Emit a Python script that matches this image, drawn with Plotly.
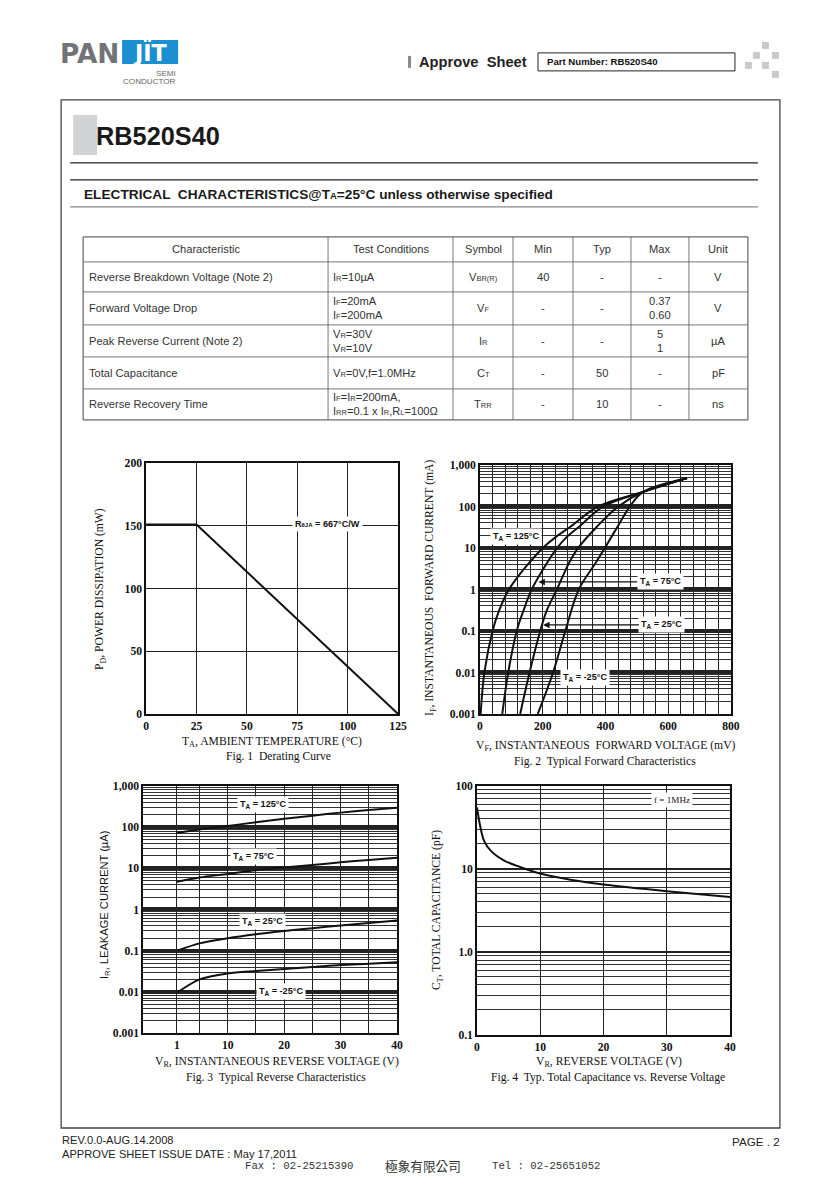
import plotly.graph_objects as go

# ---------------- data ----------------
table_header = ["Characteristic", "Test Conditions", "Symbol", "Min", "Typ", "Max", "Unit"]
table_characteristic = ["Reverse Breakdown Voltage (Note 2)", "Forward Voltage Drop",
                        "Peak Reverse Current (Note 2)", "Total Capacitance", "Reverse Recovery Time"]
S = "<span style='font-size:7.5px'>%s</span>"
table_conditions = ["I" + S % "R" + "=10µA",
                    "I" + S % "F" + "=20mA<br>I" + S % "F" + "=200mA",
                    "V" + S % "R" + "=30V<br>V" + S % "R" + "=10V",
                    "V" + S % "R" + "=0V,f=1.0MHz",
                    "I" + S % "F" + "=I" + S % "R" + "=200mA,<br>I" + S % "RR" + "=0.1 x I" + S % "R" + ",R" + S % "L" + "=100Ω"]
table_symbol = ["V" + S % "BR(R)", "V" + S % "F", "I" + S % "R", "C" + S % "T", "T" + S % "RR"]
table_min = ["40", "-", "-", "-", "-"]
table_typ = ["-", "-", "-", "50", "10"]
table_max = ["-", "0.37<br>0.60", "5<br>1", "-", "-"]
table_unit = ["V", "V", "µA", "pF", "ns"]

# Fig.1 derating curve
derate_temp = [0, 25, 125]
derate_power = [151, 151, 0]

# Fig.2 forward characteristics (mV, mA)
fwd_v_125 = [2, 14, 40, 60, 92, 130, 158, 200, 240, 287, 377, 520, 660]
fwd_i_125 = [0.001, 0.01, 0.1, 0.3, 1, 2.5, 4.5, 10, 18, 32, 100, 224, 480]
fwd_v_75 = [71, 90, 117, 138, 165, 215, 246, 275, 315, 393, 520, 660]
fwd_i_75 = [0.001, 0.01, 0.1, 0.3, 1, 4.5, 10, 18, 32, 100, 224, 480]
fwd_v_25 = [128, 158, 192, 212, 245, 285, 313, 372, 441, 520, 660]
fwd_i_25 = [0.001, 0.01, 0.1, 0.3, 1, 4.5, 10, 32, 100, 224, 480]
fwd_v_m25 = [184, 233, 272, 315, 370, 398, 438, 478, 520, 660]
fwd_i_m25 = [0.001, 0.01, 0.1, 1, 4.5, 10, 32, 100, 224, 480]

# Fig.3 reverse characteristics (V, uA)
rev_v = [1, 5, 10, 15, 20, 25, 30, 35, 40]
rev_i_125 = [72, 88, 106, 132, 160, 190, 225, 260, 295]
rev_i_75 = [4.7, 6.0, 7.3, 9.0, 10.5, 12.0, 14.0, 16.0, 18.0]
rev_i_25 = [0.10, 0.15, 0.20, 0.25, 0.30, 0.35, 0.41, 0.47, 0.54]
rev_i_m25 = [0.0095, 0.020, 0.028, 0.032, 0.036, 0.040, 0.045, 0.048, 0.052]

# Fig.4 capacitance (V, pF)
cap_v = [0, 0.4, 1.1, 2.2, 4.3, 6.9, 10, 14.8, 20, 30, 40]
cap_pf = [55, 36, 22, 16.5, 12.6, 10.5, 8.8, 7.4, 6.5, 5.4, 4.6]

fwd_ticks = [0, 200, 400, 600, 800]
log_ticks_6 = [0.001, 0.01, 0.1, 1, 10, 100, 1000]
log_ticktext_6 = ["0.001", "0.01", "0.1", "1", "10", "100", "1,000"]
cap_ticks = [0.1, 1, 10, 100]
cap_ticktext = ["0.1", "1.0", "10", "100"]
rev_tickvals = [1, 10, 20, 30, 40]
rev_ticktext = ["1", "10", "20", "30", "40"]
rev_minor = [5, 15, 25, 35]

# ---------------- layout helpers ----------------
W, H = 840, 1189
# small correction for the capture's slight shrink
SX, AX = 0.986, 2.85
SY, AY = 0.989, 6.1
FS = 1.013
def X(p): return ((p - AX) / SX) / W
def Y(p): return 1 - ((p - AY) / SY) / H

SERIF = "Liberation Serif, Times New Roman, serif"
SANS = "Liberation Sans, Arial, sans-serif"

fig = go.Figure()
shapes = []
ann = []

def text(x, y, s, size=10.5, family=SANS, color="#333", xanchor="left", angle=0, bold=False):
    if bold:
        s = "<b>" + s + "</b>"
    ann.append(dict(x=X(x), y=Y(y), xref="paper", yref="paper", text=s, showarrow=False,
                    xanchor=xanchor, yanchor="middle", textangle=angle, align=xanchor,
                    font=dict(family=family, size=size * FS, color=color)))

def line(x0, y0, x1, y1, color="#333", width=1):
    shapes.append(dict(type="line", xref="paper", yref="paper", x0=X(x0), y0=Y(y0), x1=X(x1), y1=Y(y1),
                       line=dict(color=color, width=width)))

def rect(x0, y0, x1, y1, fill=None, color="#333", width=1):
    shapes.append(dict(type="rect", xref="paper", yref="paper", x0=X(x0), y0=Y(y0), x1=X(x1), y1=Y(y1),
                       fillcolor=fill if fill else "rgba(0,0,0,0)",
                       line=dict(color=color, width=width)))

# ---------------- header ----------------
rect(122, 40, 178, 64, fill="#1b8fd2", color="#1b8fd2", width=0)
text(58, 54, "PAN", size=26, family="DejaVu Sans", color="#727376", bold=True)
text(150, 53, "JÏT", size=22, family="DejaVu Sans", color="white", xanchor="center", bold=True)
text(178, 74, "SEMI", size=8, family=SANS, color="#666", xanchor="right")
text(178, 82, "CONDUCTOR", size=8, family=SANS, color="#666", xanchor="right")

rect(408, 56, 411, 68, fill="#888", color="#888", width=0)
text(417, 62, "Approve  Sheet", size=14.5, family=SANS, color="#222", bold=True)
rect(538, 53, 735, 71, color="#222", width=1)
text(545, 62, "Part Number: RB520S40", size=9.5, family=SANS, color="#111", bold=True)
for (sx, sy) in [(762, 42), (753, 52), (772, 52), (745, 62), (762, 62), (772, 71)]:
    rect(sx, sy, sx + 7, sy + 7, fill="#c9c9c9", color="#c9c9c9", width=0)

# main frame
rect(61, 100, 780, 1128, color="#444", width=1.3)
rect(73, 115, 97, 155, fill="#d2d3d5", color="#d2d3d5", width=0)
text(94, 136, "RB520S40", size=25, family=SANS, color="#1a1a1a", bold=True)
line(70, 163, 758, 163, "#222", 1.2)
line(70, 180, 758, 180, "#222", 1.2)
line(70, 207, 758, 207, "#888", 1.3)
text(82, 195, "ELECTRICAL  CHARACTERISTICS@T<span style='font-size:9.5px'>A</span>=25°C unless otherwise specified",
     size=13.5, family=SANS, color="#1a1a1a", bold=True)

# ---------------- table ----------------
col_x = [83, 328, 453, 513, 573, 631, 689, 748]
row_y = [237, 262, 292, 325, 357, 389, 420]
rect(col_x[0], row_y[0], col_x[-1], row_y[-1], color="#444", width=1)
for cx in col_x[1:-1]:
    line(cx, row_y[0], cx, row_y[-1], "#555", 0.8)
for ry in row_y[1:-1]:
    line(col_x[0], ry, col_x[-1], ry, "#555", 0.8)
TS = 11
for i, h in enumerate(table_header):
    text((col_x[i] + col_x[i + 1]) / 2, (row_y[0] + row_y[1]) / 2, h, size=TS, xanchor="center")
columns = [table_characteristic, table_conditions, table_symbol, table_min, table_typ, table_max, table_unit]
for r in range(5):
    cy = (row_y[r + 1] + row_y[r + 2]) / 2
    for c, col in enumerate(columns):
        if c == 0:
            text(col_x[0] + 4, cy, col[r], size=TS)
        elif c == 1:
            text(col_x[1] + 3, cy, col[r], size=TS)
        else:
            text((col_x[c] + col_x[c + 1]) / 2, cy, col[r], size=TS, xanchor="center")

# ---------------- charts ----------------
LINE = dict(color="#111", width=2)
fig.add_trace(go.Scatter(x=derate_temp, y=derate_power, mode="lines", line=LINE, xaxis="x", yaxis="y"))
for v, i in [(fwd_v_125, fwd_i_125), (fwd_v_75, fwd_i_75), (fwd_v_25, fwd_i_25), (fwd_v_m25, fwd_i_m25)]:
    fig.add_trace(go.Scatter(x=v, y=i, mode="lines", line=dict(color="#111", width=2, shape="spline", smoothing=1.0),
                             xaxis="x2", yaxis="y2"))
for i in [rev_i_125, rev_i_75, rev_i_25, rev_i_m25]:
    fig.add_trace(go.Scatter(x=rev_v, y=i, mode="lines", line=dict(color="#111", width=2, shape="spline", smoothing=0.8),
                             xaxis="x3", yaxis="y3"))
fig.add_trace(go.Scatter(x=cap_v, y=cap_pf, mode="lines", line=dict(color="#111", width=2, shape="spline", smoothing=0.9),
                         xaxis="x4", yaxis="y4"))

def minor_log(decades):
    vals = []
    for d in decades:
        for k in range(2, 10):
            vals.append(d * k)
    return vals

TICKF = dict(family=SERIF, size=11.5 * FS, color="#111", weight="bold")
base = dict(showline=True, mirror=True, linecolor="#111", linewidth=1.5, ticks="", zeroline=False,
            gridcolor="#222", gridwidth=1, tickfont=TICKF, showgrid=True)

layout_axes = dict(
    xaxis=dict(base, domain=[X(146), X(398)], anchor="y", range=[0, 125], tickvals=[0, 25, 50, 75, 100, 125]),
    yaxis=dict(base, domain=[Y(714), Y(463)], anchor="x", range=[0, 200], tickvals=[0, 50, 100, 150, 200]),
    xaxis2=dict(base, domain=[X(480), X(731)], anchor="y2", range=[0, 800], tickvals=fwd_ticks,
                minor=dict(dtick=40, showgrid=True, gridcolor="#222", gridwidth=1, ticks="")),
    yaxis2=dict(base, domain=[Y(714), Y(465)], anchor="x2", type="log", range=[-3, 3],
                tickvals=log_ticks_6, ticktext=log_ticktext_6, gridwidth=4,
                minor=dict(tickvals=minor_log(log_ticks_6[:-1]), showgrid=True, gridcolor="#333", gridwidth=1, ticks="")),
    xaxis3=dict(base, domain=[X(143), X(397)], anchor="y3", range=[-5, 40], tickvals=rev_tickvals, ticktext=rev_ticktext,
                minor=dict(tickvals=rev_minor, showgrid=True, gridcolor="#222", gridwidth=1, ticks="")),
    yaxis3=dict(base, domain=[Y(1033), Y(786)], anchor="x3", type="log", range=[-3, 3],
                tickvals=log_ticks_6, ticktext=log_ticktext_6, gridwidth=4,
                minor=dict(tickvals=minor_log(log_ticks_6[:-1]), showgrid=True, gridcolor="#333", gridwidth=1, ticks="")),
    xaxis4=dict(base, domain=[X(477), X(730)], anchor="y4", range=[0, 40], tickvals=[0, 10, 20, 30, 40]),
    yaxis4=dict(base, domain=[Y(1035), Y(786)], anchor="x4", type="log", range=[-1, 2],
                tickvals=cap_ticks, ticktext=cap_ticktext, gridwidth=2,
                minor=dict(tickvals=minor_log(cap_ticks[:-1]), showgrid=True, gridcolor="#333", gridwidth=1, ticks="")),
)

# chart in-plot labels
LAB = dict(family=SANS, size=9 * FS, color="#111")
def plab(xr, yr, x, y, s, font=LAB):
    ann.append(dict(x=x, y=y, xref=xr, yref=yr, text=s, showarrow=False, bgcolor="white",
                    borderpad=2, font=font, xanchor="center", yanchor="middle"))

plab("x", "y", 90, 151, "<b>R<span style='font-size:6px'>θJA</span> = 667°C/W</b>")
plab("x2", "y2", 115, 1.265, "<b>T<sub>A</sub> = 125°C</b>")
plab("x3", "y3", 16.2, 2.56, "<b>T<sub>A</sub> = 125°C</b>")
plab("x3", "y3", 14.6, 1.28, "<b>T<sub>A</sub> = 75°C</b>")
plab("x3", "y3", 16.2, -0.30, "<b>T<sub>A</sub> = 25°C</b>")
plab("x3", "y3", 19.4, -1.99, "<b>T<sub>A</sub> = -25°C</b>")
plab("x4", "y4", 30.8, 1.83, "f = 1MHz", font=dict(family=SERIF, size=9 * FS, color="#111"))
plab("x2", "y2", 335, -2.11, "<b>T<sub>A</sub> = -25°C</b>")
for (hx, lx, ly, s) in [(186, 574, 0.18, "<b>T<sub>A</sub> = 75°C</b>"), (201, 580, -0.855, "<b>T<sub>A</sub> = 25°C</b>")]:
    ann.append(dict(x=hx, y=ly, xref="x2", yref="y2", ax=lx, ay=ly, axref="x2", ayref="y2", text=s,
                    showarrow=True, arrowhead=2, arrowsize=1, arrowwidth=1.3, arrowcolor="#111",
                    bgcolor="white", borderpad=2, font=LAB))

# axis titles & captions
TT = 11.5
text(272, 742, "T<sub>A</sub>, AMBIENT TEMPERATURE (°C)", TT, SERIF, "#111", "center")
text(278, 757, "Fig. 1  Derating Curve", TT, SERIF, "#111", "center")
text(100, 589, "P<sub>D</sub>, POWER DISSIPATION (mW)", TT, SERIF, "#111", "center", angle=-90)
text(606, 746, "V<sub>F</sub>, INSTANTANEOUS  FORWARD VOLTAGE (mV)", TT, SERIF, "#111", "center")
text(605, 762, "Fig. 2  Typical Forward Characteristics", TT, SERIF, "#111", "center")
text(430, 588, "I<sub>F</sub>, INSTANTANEOUS  FORWARD CURRENT (mA)", TT, SERIF, "#111", "center", angle=-90)
text(277, 1062, "V<sub>R</sub>, INSTANTANEOUS REVERSE VOLTAGE (V)", TT, SERIF, "#111", "center")
text(276, 1078, "Fig. 3  Typical Reverse Characteristics", TT, SERIF, "#111", "center")
text(105, 905, "I<sub>R</sub>, LEAKAGE CURRENT (µA)", 11, SANS, "#111", "center", angle=-90)
text(609, 1062, "V<sub>R</sub>, REVERSE VOLTAGE (V)", TT, SERIF, "#111", "center")
text(608, 1078, "Fig. 4  Typ. Total Capacitance vs. Reverse Voltage", TT, SERIF, "#111", "center")
text(437, 910, "C<sub>T</sub>, TOTAL CAPACITANCE (pF)", TT, SERIF, "#111", "center", angle=-90)

# footer
text(60, 1140, "REV.0.0-AUG.14.2008", 11, SANS, "#222")
text(60, 1154, "APPROVE SHEET ISSUE DATE : May 17,2011", 11, SANS, "#222")
text(782, 1142, "PAGE . 2", 11.5, SANS, "#222", "right")
text(243, 1166, "Fax : 02-25215390", 10.5, "Liberation Mono, monospace", "#333")
text(383, 1166, "極象有限公司", 12.5, "Noto Sans CJK TC", "#333")
text(490, 1166, "Tel : 02-25651052", 10.5, "Liberation Mono, monospace", "#333")

fig.update_layout(width=W, height=H, margin=dict(l=0, r=0, t=0, b=0), autosize=False,
                  paper_bgcolor="white", plot_bgcolor="white", showlegend=False,
                  shapes=shapes, annotations=ann, **layout_axes)
fig.write_html("out.html", config={"displayModeBar": False},
               post_script="document.documentElement.style.overflow='hidden';document.body.style.margin='0px';document.body.style.overflow='hidden';")
